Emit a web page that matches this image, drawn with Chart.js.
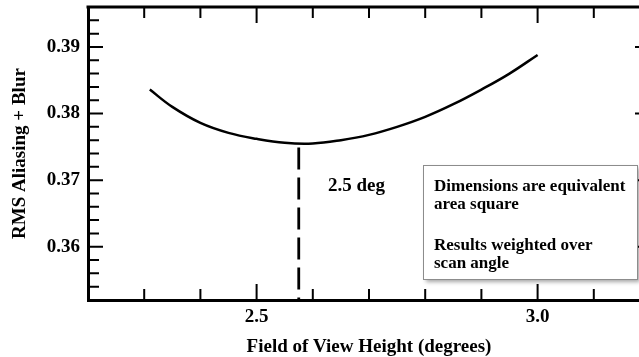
<!DOCTYPE html>
<html>
<head>
<meta charset="utf-8">
<script src="https://cdn.jsdelivr.net/npm/chart.js@4.4.1/dist/chart.umd.min.js"></script>
<style>
  html, body { margin: 0; padding: 0; background: #fff; overflow: hidden; }
  #wrap { width: 660px; height: 357px; }
</style>
</head>
<body>
<div id="wrap"><canvas id="fovChart" width="660" height="357"></canvas></div>
<script>
// values
const fovHeight = [2.31, 2.35, 2.40, 2.45, 2.50, 2.55, 2.60, 2.65, 2.70, 2.75, 2.80, 2.85, 2.90, 2.95, 3.00];
const rmsError = [0.3836, 0.3810, 0.3786, 0.3771, 0.3762, 0.3756, 0.3755, 0.3760, 0.3768, 0.3780, 0.3795, 0.3814, 0.3836, 0.3860, 0.3888];
const optimumX = [2.575, 2.575];
const optimumY = [0.3749, 0.352];
const xTickLabels = [2.5, 3.0];
const yTickLabels = [0.36, 0.37, 0.38, 0.39];
const optimumLabel = "2.5 deg";
const noteLines = ["Dimensions are equivalent", "area square", "", "Results weighted over", "scan angle"];

const serif = '"Liberation Serif", "Times New Roman", serif';
const tickFont = { family: serif, size: 19, weight: "bold" };

const chartCanvas = document.getElementById("fovChart");

// inward tick marks, top/right frame and the note box
const frameAndNotes = {
  id: "frameAndNotes",
  afterDraw(chart) {
    const { ctx, chartArea: a, scales: { x, y } } = chart;
    ctx.save();
    ctx.strokeStyle = "#000";
    ctx.lineWidth = 3;
    ctx.beginPath();
    ctx.moveTo(a.left - 1.5, a.top);
    ctx.lineTo(a.right, a.top);
    ctx.lineTo(a.right, a.bottom);
    ctx.stroke();

    ctx.lineWidth = 2;
    ctx.beginPath();
    for (let i = 1; i < 10; i++) {
      const v = 2.2 + i * 0.1;
      const px = x.getPixelForValue(v);
      const len = xTickLabels.some((t) => Math.abs(t - v) < 1e-6) ? 16 : 11;
      ctx.moveTo(px, a.bottom);
      ctx.lineTo(px, a.bottom - len);
      ctx.moveTo(px, a.top);
      ctx.lineTo(px, a.top + len);
    }
    for (let i = 1; i < 22; i++) {
      const v = 0.352 + i * 0.002;
      const py = y.getPixelForValue(v);
      const major = yTickLabels.some((t) => Math.abs(t - v) < 1e-6);
      ctx.moveTo(a.left, py);
      ctx.lineTo(a.left + (major ? 15 : 11), py);
      if (major) {
        ctx.moveTo(a.right, py);
        ctx.lineTo(a.right - 15, py);
      }
    }
    ctx.stroke();

    ctx.fillStyle = "#000";
    ctx.font = "bold 19px " + serif;
    ctx.textBaseline = "alphabetic";
    ctx.fillText(optimumLabel, 328, 191);

    // note box
    ctx.save();
    ctx.shadowColor = "rgba(0,0,0,0.35)";
    ctx.shadowBlur = 4;
    ctx.shadowOffsetX = 3;
    ctx.shadowOffsetY = 3;
    ctx.fillStyle = "#fff";
    ctx.fillRect(423, 165, 214, 114);
    ctx.restore();
    ctx.strokeStyle = "#8c8c8c";
    ctx.lineWidth = 1;
    ctx.strokeRect(423.5, 165.5, 214, 114);

    ctx.fillStyle = "#000";
    ctx.font = "bold 17px " + serif;
    let lineY = 191;
    noteLines.forEach((line) => {
      if (line === "") {
        lineY += 23;
        return;
      }
      ctx.fillText(line, 434, lineY);
      lineY += 18;
    });
    ctx.restore();
  },
};

new Chart(chartCanvas, {
  type: "scatter",
  data: {
    datasets: [
      {
        data: fovHeight.map((v, i) => ({ x: v, y: rmsError[i] })),
        showLine: true,
        borderColor: "#000",
        borderWidth: 2.5,
        pointRadius: 0,
        tension: 0.4,
      },
      {
        data: optimumX.map((v, i) => ({ x: v, y: optimumY[i] })),
        showLine: true,
        borderColor: "#000",
        borderWidth: 2.8,
        borderDash: [22, 8],
        pointRadius: 0,
      },
    ],
  },
  options: {
    responsive: false,
    animation: false,
    layout: { padding: { top: 7, right: 10, left: 0, bottom: 0 } },
    plugins: { legend: { display: false }, tooltip: { enabled: false } },
    scales: {
      x: {
        type: "linear",
        min: 2.2,
        max: 3.2,
        grid: { display: false, drawTicks: false },
        border: { display: true, width: 3, color: "#000" },
        afterBuildTicks: (scale) => {
          scale.ticks = xTickLabels.map((v) => ({ value: v }));
        },
        afterFit: (scale) => {
          scale.height = 57;
          scale.paddingLeft = 0;
          scale.paddingRight = 0;
        },
        ticks: {
          color: "#000",
          font: tickFont,
          padding: 6,
          maxRotation: 0,
          callback: (v) => Number(v).toFixed(1),
        },
        title: {
          display: true,
          text: "Field of View Height (degrees)",
          color: "#000",
          font: { family: serif, size: 19, weight: "bold", lineHeight: 1.0 },
          padding: { top: 0, bottom: 0 },
        },
      },
      y: {
        type: "linear",
        min: 0.352,
        max: 0.396,
        grid: { display: false, drawTicks: false },
        border: { display: true, width: 3, color: "#000" },
        afterBuildTicks: (scale) => {
          scale.ticks = yTickLabels.map((v) => ({ value: v }));
        },
        afterFit: (scale) => {
          scale.width = 88;
          scale.paddingTop = 0;
          scale.paddingBottom = 0;
        },
        ticks: {
          color: "#000",
          font: tickFont,
          padding: 8,
          callback: (v) => Number(v).toFixed(2),
        },
        title: {
          display: true,
          text: "RMS Aliasing + Blur",
          color: "#000",
          font: { family: serif, size: 19, weight: "bold" },
          padding: { top: 9, bottom: 0 },
        },
      },
    },
  },
  plugins: [frameAndNotes],
});
</script>
</body>
</html>
